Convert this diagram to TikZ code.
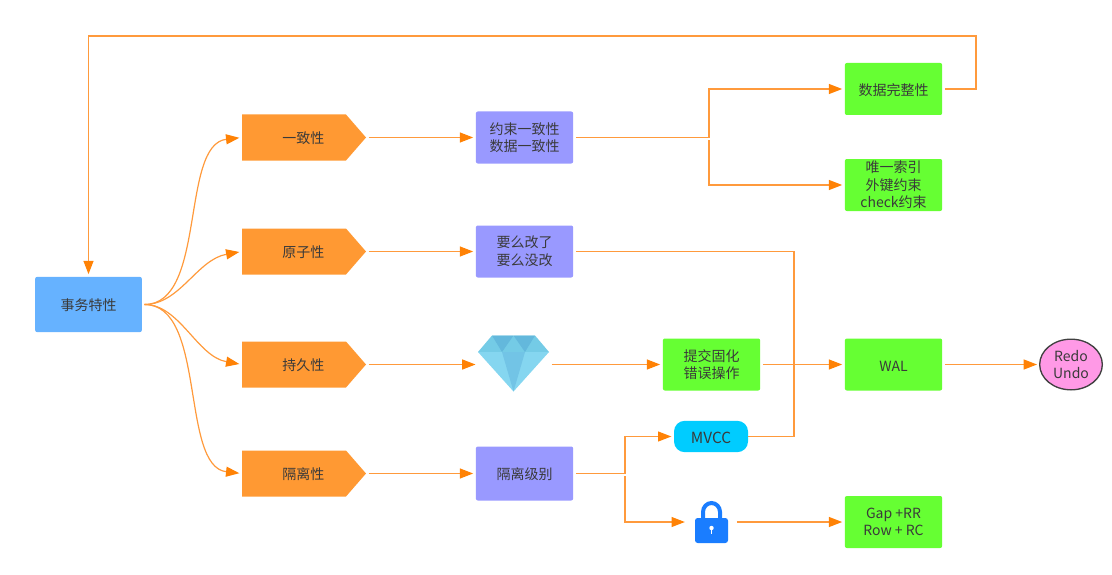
\documentclass[tikz,border=0pt]{standalone}
\usepackage{fontspec}
\setmainfont{Noto Sans CJK SC}
\usetikzlibrary{arrows.meta,shapes.symbols,shapes.geometric}
\definecolor{linec}{HTML}{FF9A3C}
\definecolor{tipc}{HTML}{FF8205}
\definecolor{txt}{HTML}{3A3A3A}
\definecolor{blueb}{HTML}{66B2FF}
\definecolor{orangeb}{HTML}{FF9933}
\definecolor{purpleb}{HTML}{9999FF}
\definecolor{greenb}{HTML}{66FF33}
\definecolor{cyanb}{HTML}{00CCFF}
\definecolor{pinkb}{HTML}{FF99E6}
\definecolor{lockc}{HTML}{1A7DFF}
\tikzset{
  x=0.75pt,y=-0.75pt,
  every node/.style={font=\fontsize{10.5}{13.2}\selectfont,text=txt,align=center,inner sep=0pt,outer sep=0pt},
  lowered/.style={execute at begin node={\rule{0pt}{10.4pt}}},
  box/.style={lowered,rectangle,rounded corners=1.5pt,minimum width=73pt,minimum height=39pt},
  rootbox/.style={box,fill=blueb,minimum width=80pt,minimum height=41.5pt},
  purplebox/.style={box,fill=purpleb},
  greenbox/.style={box,fill=greenb},
  penta/.style={lowered,signal,signal to=east,signal from=nowhere,signal pointer angle=98,fill=orangeb,minimum width=93pt,minimum height=34.5pt},
  conn/.style={draw=linec,line width=0.9pt,shorten <=2pt,shorten >=2pt,-{Triangle[length=10pt,width=7.5pt,fill=tipc,color=tipc]}},
  plainconn/.style={draw=linec,line width=0.9pt,shorten <=2pt},
}
\newcommand{\pentashift}{\hspace*{14pt}}
\begin{document}
\begin{tikzpicture}
\useasboundingbox (0,0) rectangle (1112,574);
% nodes
\node[rootbox] (root) at (88.5,304.5) {事务特性};
\node[penta] (p1) at (294,137.5) {\pentashift 一致性};
\node[penta] (p2) at (294,251.5) {\pentashift 原子性};
\node[penta] (p3) at (294,364.5) {\pentashift 持久性};
\node[penta] (p4) at (294,473.5) {\pentashift 隔离性};
\node[purplebox] (a1) at (524.5,137.5) {约束一致性\\数据一致性};
\node[purplebox] (a2) at (524.5,251.5) {要么改了\\要么没改};
\node[purplebox,minimum height=40.5pt] (a4) at (524.5,473.5) {隔离级别};
\node[greenbox] (g1) at (893.5,89) {数据完整性};
\node[greenbox] (g2) at (893.5,185) {唯一索引\\外键约束\\check约束};
\node[greenbox] (g3) at (711.5,364.5) {提交固化\\错误操作};
\node[greenbox] (wal) at (893.5,364.5) {WAL};
\node[greenbox] (gap) at (893.5,522) {Gap +RR\\Row + RC};
\node[lowered,ellipse,draw=black!75,line width=1pt,fill=pinkb,minimum width=47pt,minimum height=38pt] (redo) at (1071,364.5) {Redo\\Undo};
\node[lowered,rectangle,rounded corners=8pt,fill=cyanb,minimum width=55.5pt,minimum height=23.5pt,font=\fontsize{11.5}{13.2}\selectfont] (mvcc) at (711,436.5) {MVCC};
% gem
\node[minimum width=53pt,minimum height=42pt] (gem) at (513.5,364.5) {};
\fill[color={rgb,255:red,116;green,203;blue,230}] (492,335.5)--(535,335.5)--(549,352)--(478,352)--cycle;
\fill[color={rgb,255:red,99;green,184;blue,220}] (492,335.5)--(513.5,335.5)--(502,352)--cycle;
\fill[color={rgb,255:red,99;green,184;blue,220}] (513.5,335.5)--(535,335.5)--(525,352)--cycle;
\fill[color={rgb,255:red,133;green,214;blue,240}] (478,352)--(549,352)--(513.5,391.5)--cycle;
\fill[color={rgb,255:red,114;green,196;blue,230}] (502,352)--(525,352)--(513.5,391.5)--cycle;
% lock
\node[minimum width=25pt,minimum height=31.5pt] (lock) at (711.5,522) {};
\draw[lockc,line width=3pt] (703,520) -- (703,512) arc[start angle=180,end angle=0,x radius=8.5,y radius=-9] -- (720,520);
\fill[lockc,rounded corners=2pt] (695,518) rectangle (728,543);
\fill[white] (711.5,528) circle[radius=2.2];
\fill[white] (710.7,528) rectangle (712.3,534);
% junctions
\coordinate (j1) at (709,137.5);
\coordinate (j2) at (625,473.5);
\coordinate (j3) at (794,251.5);
\coordinate (top1) at (976,36);
% connectors
\draw[conn] (root.east) .. controls +(65,0) and +(-62,7) .. (p1.west);
\draw[conn] (root.east) .. controls +(38,0) and +(-45,8) .. (p2.west);
\draw[conn] (root.east) .. controls +(38,0) and +(-45,-8) .. (p3.west);
\draw[conn] (root.east) .. controls +(65,0) and +(-62,-7) .. (p4.west);
\draw[conn] (p1.east) -- (a1.west);
\draw[conn] (p2.east) -- (a2.west);
\draw[conn] (p3.east) -- (gem.west);
\draw[conn] (p4.east) -- (a4.west);
\draw[conn] (a1.east) -- (j1) |- (g1.west);
\draw[conn] (j1) |- (g2.west);
\draw[plainconn] (a2.east) -| (j3 |- mvcc.east) -- (mvcc.east);
\draw[conn] (gem.east) -- (g3.west);
\draw[conn] (g3.east) -- (wal.west);
\draw[conn] (wal.east) -- (redo.west);
\draw[conn] (a4.east) -- (j2) |- (mvcc.west);
\draw[conn,shorten >=7.5pt] (j2) |- (lock.west);
\draw[conn,shorten <=6.5pt] (lock.east) -- (gap.west);
\draw[conn] (g1.east) -| (top1) -| (root.north);
\end{tikzpicture}
\end{document}
